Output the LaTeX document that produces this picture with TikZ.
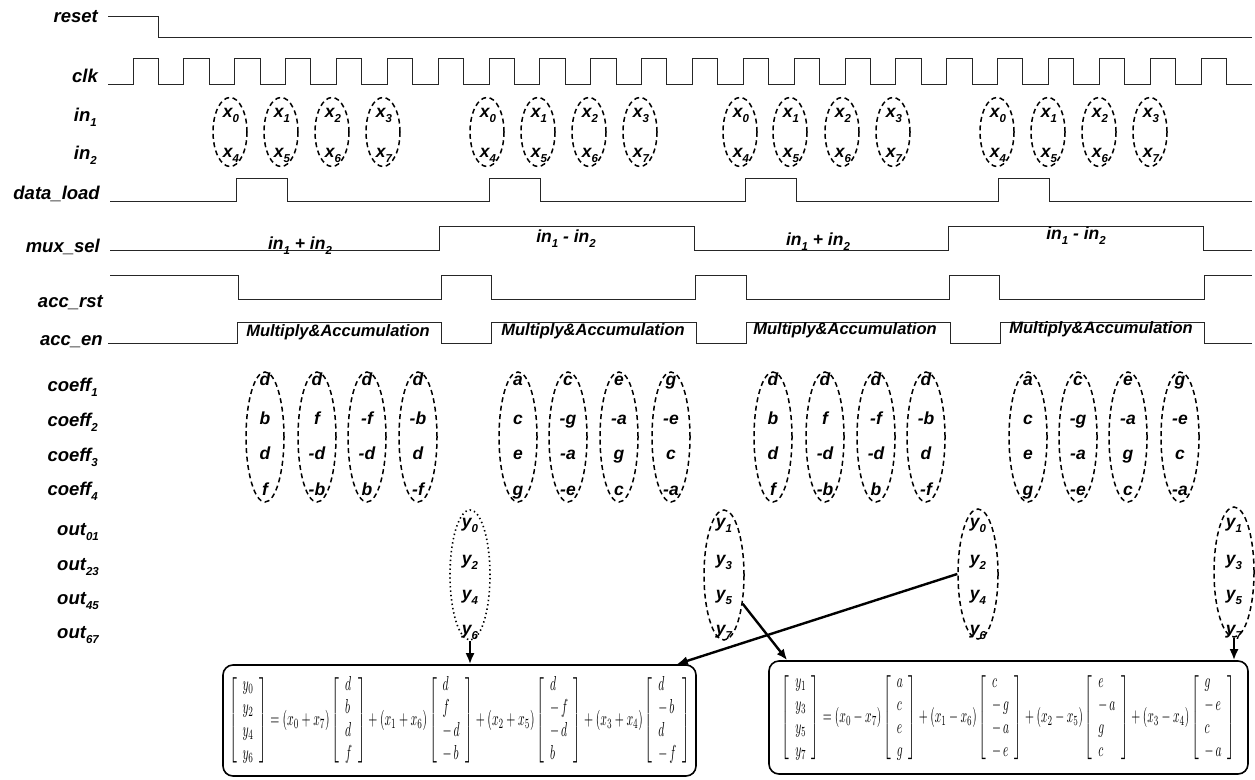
\documentclass[tikz,border=0pt]{standalone}
\usepackage{amsmath}
\usepackage{fontspec}
\setmainfont{Liberation Sans}
\usetikzlibrary{shapes.geometric,arrows.meta}
\newcommand\lsub[1]{\raisebox{-0.5ex}{\fontsize{11.5}{12}\selectfont #1}}
\newcommand\cv[4]{\left[\begin{array}{l}#1\\#2\\#3\\#4\end{array}\right]}
\begin{document}
\begin{tikzpicture}[x=1pt,y=-1pt,
  lbl/.style={anchor=mid east, inner sep=0, font=\fontsize{18.5}{20}\selectfont\bfseries\itshape},
  wave/.style={line width=1pt, black!85},
  dsh/.style={ellipse, draw, line width=1.5pt, dash pattern=on 5pt off 3.5pt, inner sep=0},
  dot/.style={ellipse, draw, line width=1.6pt, dash pattern=on 1.4pt off 3pt, inner sep=0},
  txt/.style={inner sep=0, anchor=mid, font=\fontsize{17.5}{18}\selectfont\bfseries\itshape},
  mac/.style={inner sep=0, anchor=mid, font=\fontsize{16.5}{18}\selectfont\bfseries\itshape},
  box/.style={draw, line width=1.6pt, rounded corners=10pt, inner sep=0},
  arr/.style={line width=2.4pt, -{Latex[length=11pt,width=9pt]}}]
\fill[white] (0,0) rectangle (1255,779);
\useasboundingbox (0,0) rectangle (1255,779);

% labels
\node[lbl] (Lreset) at (98,20) {reset};
\node[lbl] (Lclk) at (98,80) {clk};
\node[lbl] (Lin1) at (97,119) {in\lsub{1}};
\node[lbl] (Lin2) at (97,157) {in\lsub{2}};
\node[lbl] (Ldl) at (100,197) {data\_load};
\node[lbl] (Lmux) at (100,250) {mux\_sel};
\node[lbl] (Lrst) at (103,305) {acc\_rst};
\node[lbl] (Len) at (103,343) {acc\_en};
\node[lbl] (Lc1) at (98,389) {coeff\lsub{1}};
\node[lbl] (Lc2) at (98,424) {coeff\lsub{2}};
\node[lbl] (Lc3) at (98,459) {coeff\lsub{3}};
\node[lbl] (Lc4) at (98,493) {coeff\lsub{4}};
\node[lbl] (Lo1) at (99,533) {out\lsub{01}};
\node[lbl] (Lo2) at (99,568) {out\lsub{23}};
\node[lbl] (Lo3) at (99,602) {out\lsub{45}};
\node[lbl] (Lo4) at (99,636) {out\lsub{67}};

% waveforms
\draw[wave] (108,16) -- (158,16) -- (158,37) -- (1252,37);
\draw[wave] (108,84) \foreach \k in {0,...,21}{ -- ({133+50.857*\k},84) -- ({133+50.857*\k},58) -- ({158.4+50.857*\k},58) -- ({158.4+50.857*\k},84)} -- (1252,84);
\draw[wave] (110,201) -- (236,201) -- (236,178) -- (287,178) -- (287,201) -- (489,201) -- (489,178) -- (540,178) -- (540,201) -- (745,201) -- (745,178) -- (796,178) -- (796,201) -- (998,201) -- (998,178) -- (1049,178) -- (1049,201) -- (1252,201);
\draw[wave] (110,250) -- (439,250) -- (439,226) -- (694,226) -- (694,250) -- (948,250) -- (948,226) -- (1203,226) -- (1203,250) -- (1252,250);
\draw[wave] (110,275) -- (238,275) -- (238,299) -- (441,299) -- (441,275) -- (491,275) -- (491,299) -- (695,299) -- (695,275) -- (746,275) -- (746,299) -- (949,299) -- (949,275) -- (999,275) -- (999,299) -- (1204,299) -- (1204,275) -- (1252,275);
\draw[wave] (108,343) -- (237,343) -- (237,322) -- (441,322) -- (441,343) -- (491,343) -- (491,322) -- (696,322) -- (696,343) -- (746,343) -- (746,322) -- (950,322) -- (950,343) -- (1000,343) -- (1000,322) -- (1204,322) -- (1204,343) -- (1252,343);

% mux labels
\node[txt] (m1) at (300,247) {in\lsub{1} + in\lsub{2}};
\node[txt] (m2) at (566,240) {in\lsub{1} - in\lsub{2}};
\node[txt] (m3) at (818,243) {in\lsub{1} + in\lsub{2}};
\node[txt] (m4) at (1076,237) {in\lsub{1} - in\lsub{2}};

% multiply & accumulation
\node[mac] (ma1) at (338,334) {Multiply\&Accumulation};
\node[mac] (ma2) at (593,333) {Multiply\&Accumulation};
\node[mac] (ma3) at (845,332) {Multiply\&Accumulation};
\node[mac] (ma4) at (1101,331) {Multiply\&Accumulation};

% input ellipses
\foreach \n/\cx/\a/\b in {a1/230/0/4, a2/281/1/5, a3/332/2/6, a4/383/3/7,
  b1/487/0/4, b2/538/1/5, b3/589/2/6, b4/640/3/7,
  c1/740/0/4, c2/790/1/5, c3/842/2/6, c4/893/3/7,
  d1/997/0/4, d2/1048/1/5, d3/1099/2/6, d4/1150/3/7}{
  \node[dsh, minimum width=34pt, minimum height=69pt] (in\n) at (\cx,132) {};
  \node[txt] (in\n u) at (\cx+1,115) {x\lsub{\a}};
  \node[txt] (in\n l) at (\cx+1,155) {x\lsub{\b}};
}

% coefficient ellipses
\foreach \n/\cx/\p/\q/\r/\s in {
  g11/265/d/b/d/f, g12/317/d/f/-d/-b, g13/367/d/-f/-d/b, g14/418/d/-b/d/-f,
  g21/518/a/c/e/g, g22/568/c/-g/-a/-e, g23/619/e/-a/g/c, g24/671/g/-e/c/-a,
  g31/773/d/b/d/f, g32/825/d/f/-d/-b, g33/876/d/-f/-d/b, g34/926/d/-b/d/-f,
  g41/1028/a/c/e/g, g42/1078/c/-g/-a/-e, g43/1128/e/-a/g/c, g44/1180/g/-e/c/-a}{
  \node[dsh, minimum width=38pt, minimum height=130pt] (\n) at (\cx,437) {};
  \node[txt] (\n p) at (\cx,383) {\p};
  \node[txt] (\n q) at (\cx,422) {\q};
  \node[txt] (\n r) at (\cx,457) {\r};
  \node[txt] (\n s) at (\cx,493) {\s};
}

% output ellipses
\node[dot, minimum width=40pt, minimum height=130pt] (out1) at (470,575) {};
\node[dsh, minimum width=40pt, minimum height=130pt] (out2) at (724,575) {};
\node[dsh, minimum width=40pt, minimum height=130pt] (out3) at (978,574) {};
\node[dsh, minimum width=40pt, minimum height=130pt] (out4) at (1234,572) {};
\foreach \o/\cx/\a/\b/\c/\d in {out1/470/0/2/4/6, out2/724/1/3/5/7, out3/978/0/2/4/6, out4/1234/1/3/5/7}{
  \node[txt] (\o a) at (\cx,525) {y\lsub{\a}};
  \node[txt] (\o b) at (\cx,562) {y\lsub{\b}};
  \node[txt] (\o c) at (\cx,597) {y\lsub{\c}};
  \node[txt] (\o d) at (\cx,632) {y\lsub{\d}};
}

% equation boxes
\node[box, minimum width=473pt, minimum height=111pt] (box1) at (459.5,720.5)
 {\resizebox*{461pt}{92pt}{\renewcommand\arraystretch{0.95}$\cv{y_0}{y_2}{y_4}{y_6} = (x_0+x_7)\cv{d}{b}{d}{f} + (x_1+x_6)\cv{d}{f}{-\,d}{-\,b} + (x_2+x_5)\cv{d}{-\,f}{-\,d}{b} + (x_3+x_4)\cv{d}{-\,b}{d}{-\,f}$}};
\node[box, minimum width=479pt, minimum height=113pt] (box2) at (1008.5,717.5)
 {\resizebox*{453pt}{91pt}{\renewcommand\arraystretch{0.95}$\cv{y_1}{y_3}{y_5}{y_7} = (x_0-x_7)\cv{a}{c}{e}{g} + (x_1-x_6)\cv{c}{-\,g}{-\,a}{-\,e} + (x_2-x_5)\cv{e}{-\,a}{g}{c} + (x_3-x_4)\cv{g}{-\,e}{c}{-\,a}$}};

% arrows
\draw[arr] (out1.south) -- (out1.south |- box1.north);
\draw[arr] (out3.west) -- ([xshift=-20pt]box1.north east);
\draw[arr] (out2.-57) -- ([xshift=19pt]box2.north west);
\draw[arr] (out4.south) -- (out4.south |- box2.north);
\end{tikzpicture}
\end{document}
